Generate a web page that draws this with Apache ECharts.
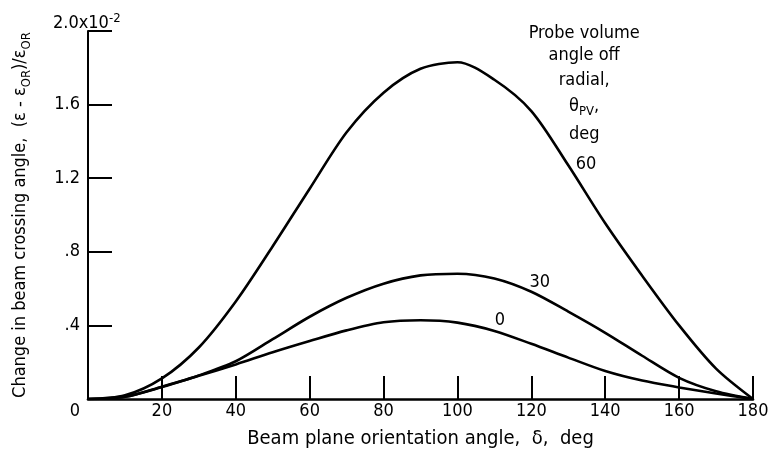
<!DOCTYPE html>
<html>
<head>
<meta charset="utf-8">
<script src="https://cdn.jsdelivr.net/npm/echarts@6/dist/echarts.min.js"></script>
<style>
html,body{margin:0;padding:0;background:#fff;}
#c{width:769px;height:452px;}
</style>
</head>
<body>
<div id="c"></div>
<script>
// Beam plane orientation angle, deg
const deltaDeg = [0, 10, 20, 30, 40, 50, 60, 70, 80, 90, 100, 110, 120, 130, 140, 150, 160, 170, 180];
// Change in beam crossing angle (x10^-2) for probe volume angle off radial
const theta60 = [0, 0.02, 0.112, 0.28, 0.53, 0.83, 1.143, 1.45, 1.665, 1.795, 1.83, 1.735, 1.565, 1.27, 0.955, 0.67, 0.40, 0.165, 0];
const theta30 = [0, 0.012, 0.067, 0.128, 0.205, 0.325, 0.447, 0.55, 0.627, 0.672, 0.681, 0.655, 0.583, 0.475, 0.36, 0.235, 0.115, 0.042, 0];
const theta0  = [0, 0.012, 0.065, 0.126, 0.188, 0.254, 0.315, 0.373, 0.417, 0.428, 0.415, 0.37, 0.30, 0.225, 0.152, 0.10, 0.063, 0.03, 0];
const seriesNames = ['60', '30', '0'];
const yTicks = [0, 0.4, 0.8, 1.2, 1.6, 2.0];
const yTickLabels = ['', '.4', '.8', '1.2', '1.6', '2.0'];
const legendLines = ['Probe volume', 'angle off', 'radial,', '{t|θ}{s|PV}{t|,}', 'deg'];

const FONT = '"DejaVu Sans Condensed", "DejaVu Sans", sans-serif';
const FS = 18;

const chart = echarts.init(document.getElementById('c'), null, {renderer: 'canvas'});

function pairs(ys) { return deltaDeg.map((x, i) => [x, ys[i]]); }

const lineSeries = [theta60, theta30, theta0].map((ys, i) => ({
  type: 'line',
  name: seriesNames[i],
  data: pairs(ys),
  smooth: 0.3,
  symbol: 'none',
  lineStyle: {color: '#000', width: 2.6},
  z: 3
}));

chart.setOption({
  animation: false,
  backgroundColor: '#fff',
  grid: {left: 88, right: 16, top: 31, bottom: 53, containLabel: false, outerBoundsMode: 'none'},
  xAxis: {
    type: 'value', min: 0, max: 180, interval: 20,
    name: 'Beam plane orientation angle,  δ,  deg',
    nameLocation: 'middle', nameGap: 30,
    nameTextStyle: {fontFamily: FONT, fontSize: 20, color: '#000'},
    axisLine: {show: true, onZero: false, lineStyle: {color: '#000', width: 2.6}},
    axisTick: {show: true, inside: true, length: 23, lineStyle: {color: '#000', width: 2}},
    splitLine: {show: false},
    axisLabel: {
      fontFamily: FONT, fontSize: FS, color: '#000', margin: 3,
      formatter: v => v === 0 ? '{z|0}' : String(v),
      rich: {z: {fontFamily: FONT, fontSize: FS, color: '#000', padding: [0, 26, 0, 0]}}
    }
  },
  yAxis: {
    type: 'value', min: 0, max: 2.0, interval: 0.4,
    name: 'Change in beam crossing angle,  (ε - ε{s|OR})/ε{s|OR}',
    nameLocation: 'middle', nameGap: 55, nameRotate: 90,
    nameTextStyle: {
      fontFamily: FONT, fontSize: 18, color: '#000', lineHeight: 26,
      rich: {s: {fontFamily: FONT, fontSize: 13, color: '#000', verticalAlign: 'bottom', lineHeight: 13}}
    },
    axisLine: {show: true, onZero: false, lineStyle: {color: '#000', width: 2}},
    axisTick: {show: true, inside: true, length: 24, lineStyle: {color: '#000', width: 2}},
    splitLine: {show: false},
    axisLabel: {
      fontFamily: FONT, fontSize: FS, color: '#000', margin: 8, padding: [6, 0, 0, 0],
      formatter: v => {
        const idx = yTicks.findIndex(t => Math.abs(t - v) < 1e-6);
        if (idx < 0 || idx === yTicks.length - 1) return '';
        return yTickLabels[idx];
      }
    }
  },
  series: lineSeries
});

// Additional text placed through the chart's coordinate system
function px(x, y) { return chart.convertToPixel({gridIndex: 0}, [x, y]); }
const topLab = px(0, 2.0);
const lab60 = px(134.8, 1.274);
const lab30 = px(122.3, 0.634);
const lab0 = px(111.5, 0.428);
const legendPos = px(134.3, 1.99);

const textStyleBase = {fontFamily: FONT, fontSize: FS, fill: '#000'};
const graphics = [];
graphics.push({
  type: 'text', x: topLab[0] - 35, y: topLab[1] - 8,
  style: Object.assign({}, textStyleBase, {
    text: '{t|2.0x10}{p|-2}', align: 'left', verticalAlign: 'middle',
    rich: {t: {fontFamily: FONT, fontSize: FS, fill: '#000', lineHeight: 22},
           p: {fontFamily: FONT, fontSize: 13, fill: '#000', verticalAlign: 'top', lineHeight: 13}}
  })
});

[[lab60, seriesNames[0]], [lab30, seriesNames[1]], [lab0, seriesNames[2]]].forEach(([p, t]) => {
  graphics.push({type: 'text', x: p[0], y: p[1],
    style: Object.assign({}, textStyleBase, {text: t, align: 'center', verticalAlign: 'middle'})});
});
const legendYs = [0, 22, 47, 73, 101];
legendLines.forEach((t, i) => {
  graphics.push({type: 'text', x: legendPos[0], y: legendPos[1] + legendYs[i],
    style: Object.assign({}, textStyleBase, {
      text: t, align: 'center', verticalAlign: 'middle',
      rich: {t: {fontFamily: FONT, fontSize: FS, fill: '#000', lineHeight: 24},
             s: {fontFamily: FONT, fontSize: 13, fill: '#000', verticalAlign: 'bottom', lineHeight: 13}}
    })});
});
chart.setOption({graphic: graphics});
</script>
</body>
</html>
